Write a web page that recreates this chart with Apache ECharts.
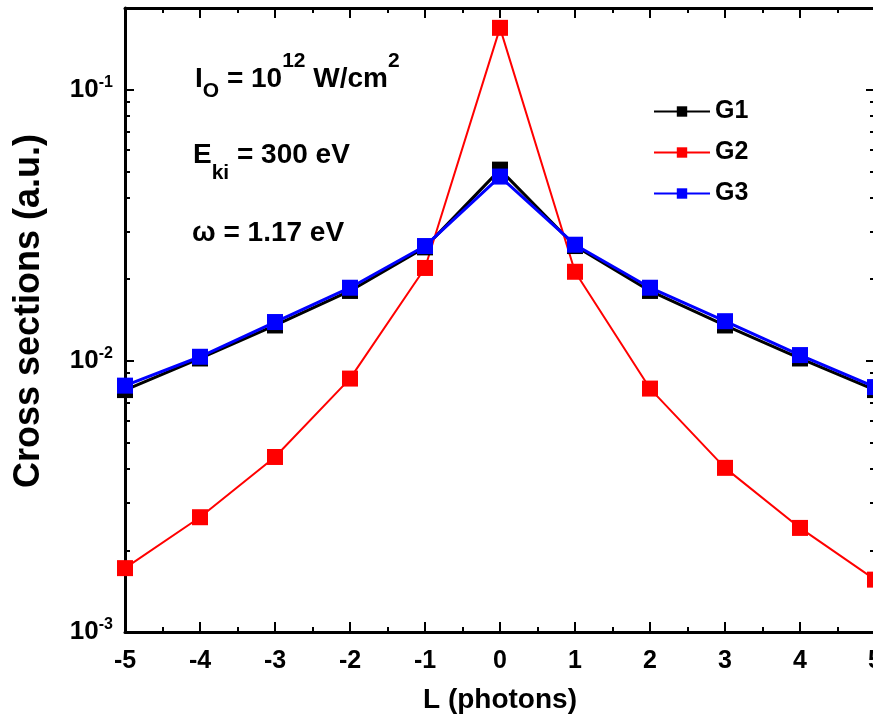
<!DOCTYPE html>
<html>
<head>
<meta charset="utf-8">
<title>Cross sections</title>
<script src="https://cdn.jsdelivr.net/npm/echarts@6/dist/echarts.min.js"></script>
<style>
  html, body { margin: 0; padding: 0; background: #fff; }
  #Echarts { width: 873px; height: 722px; }
</style>
</head>
<body>
<div id="Echarts"></div>
<script>
// 数据
var photons = [-5, -4, -3, -2, -1, 0, 1, 2, 3, 4, 5];
var g1 = [0.0078, 0.0102, 0.0135, 0.0181, 0.0262, 0.0507, 0.0265, 0.0181, 0.0135, 0.0102, 0.0078];
var g2 = [0.00172, 0.00265, 0.00442, 0.0086, 0.0220, 0.169, 0.0213, 0.0079, 0.00403, 0.00242, 0.00156];
var g3 = [0.0081, 0.01035, 0.0139, 0.0186, 0.0265, 0.0478, 0.0268, 0.0186, 0.0140, 0.0105, 0.0080];
var yMajor = [0.001, 0.01, 0.1];
var yMinor = [0.002, 0.003, 0.004, 0.005, 0.006, 0.007, 0.008, 0.009,
              0.02, 0.03, 0.04, 0.05, 0.06, 0.07, 0.08, 0.09, 0.2];

var FONT = 'Liberation Sans';

function pairs(ys) {
    return photons.map(function (x, i) { return [x, ys[i]]; });
}

function powLabel(v) {
    var e = Math.round(Math.log10(v));
    if (Math.abs(Math.log10(v) - e) > 1e-6) return '';
    return '{b|10}{s|' + e + '}';
}

// 文字宽度
var ctx = document.createElement('canvas').getContext('2d');
function textW(str, size) {
    ctx.font = 'bold ' + size + 'px "' + FONT + '"';
    return ctx.measureText(str).width;
}

// 注释文字: pieces of [text, fontSize, dy]
function annotation(x, y, pieces) {
    var out = [];
    var cx = x;
    pieces.forEach(function (p) {
        out.push({
            type: 'text', x: cx, y: y + p[2], z: 100,
            style: {
                text: p[0], fill: '#000',
                font: 'bold ' + p[1] + 'px "' + FONT + '"',
                textAlign: 'left', textVerticalAlign: 'middle'
            }
        });
        cx += textW(p[0], p[1]);
    });
    return out;
}

var myChart = echarts.init(document.getElementById('Echarts'));

var xBase = {
    type: 'value', min: -5, max: 5, interval: 1,
    axisLine: { show: true, onZero: false, lineStyle: { color: '#000', width: 3 } },
    axisTick: { show: true, inside: true, length: 10, lineStyle: { color: '#000', width: 2 } },
    minorTick: { show: true, splitNumber: 2, length: 5, lineStyle: { color: '#000', width: 2 } },
    splitLine: { show: false }
};

var yBase = {
    type: 'log', min: 0.001, max: 0.2, logBase: 10,
    axisLine: { show: true, onZero: false, lineStyle: { color: '#000', width: 3 } },
    axisTick: { show: true, inside: true, length: 9, customValues: yMajor, lineStyle: { color: '#000', width: 2 } },
    axisLabel: { show: false },
    splitLine: { show: false }
};

var yMinorAxis = {
    type: 'log', min: 0.001, max: 0.2, logBase: 10,
    axisLine: { show: false, onZero: false },
    axisTick: { show: true, inside: true, length: 5, customValues: yMinor, lineStyle: { color: '#000', width: 2 } },
    axisLabel: { show: false },
    splitLine: { show: false }
};

var texts = [].concat(
    annotation(195, 79.5, [['I', 28, 0], ['O', 21, 11.5], [' = 10', 28, 0], ['12', 21, -18.5], [' W/cm', 28, 0], ['2', 21, -18.5]]),
    annotation(193, 155, [['E', 28, 0], ['ki', 21, 18], [' = 300 eV', 28, 0]]),
    annotation(192, 233, [['ω = 1.17 eV', 28, 0]])
);

var option = {
    backgroundColor: '#fff',
    animation: false,
    grid: { left: 125, top: 8, width: 750, height: 624, outerBoundsMode: 'none', containLabel: false },
    legend: {
        left: 648, top: 94, orient: 'vertical',
        itemWidth: 56, itemHeight: 13, itemGap: 16,
        textStyle: { fontFamily: FONT, fontWeight: 'bold', fontSize: 25, color: '#000' },
        data: ['G1', 'G2', 'G3']
    },
    xAxis: [
        echarts.util.merge({
            position: 'bottom',
            name: 'L (photons)', nameLocation: 'middle', nameGap: 54,
            nameTextStyle: { fontFamily: FONT, fontWeight: 'bold', fontSize: 28, color: '#000' },
            axisLabel: { show: true, margin: 17, fontFamily: FONT, fontWeight: 'bold', fontSize: 25, color: '#000' }
        }, xBase, true),
        echarts.util.merge({ position: 'top', axisLabel: { show: false } }, xBase, true)
    ],
    yAxis: [
        echarts.util.merge({
            position: 'left',
            name: 'Cross sections (a.u.)', nameLocation: 'middle', nameGap: 78,
            nameTextStyle: { fontFamily: FONT, fontWeight: 'bold', fontSize: 36, color: '#000', padding: [0, 0, 0, 18] }
        }, yBase, true),
        echarts.util.merge({ position: 'right' }, yBase, true),
        echarts.util.merge({ position: 'left' }, yMinorAxis, true),
        echarts.util.merge({ position: 'right' }, yMinorAxis, true),
        {
            type: 'log', min: 0.001, max: 0.2, logBase: 10, position: 'left',
            axisLine: { show: false, onZero: false }, axisTick: { show: false }, splitLine: { show: false },
            axisLabel: {
                show: true, margin: 12, customValues: yMajor,
                formatter: powLabel,
                rich: {
                    b: { fontFamily: FONT, fontWeight: 'bold', fontSize: 26, color: '#000', lineHeight: 30 },
                    s: { fontFamily: FONT, fontWeight: 'bold', fontSize: 16, color: '#000', lineHeight: 14, verticalAlign: 'top' }
                }
            }
        }
    ],
    graphic: texts,
    series: [
        {
            name: 'G1', type: 'line', data: pairs(g1),
            symbol: 'rect', symbolSize: 16,
            itemStyle: { color: '#000' }, lineStyle: { color: '#000', width: 3 }
        },
        {
            name: 'G2', type: 'line', data: pairs(g2),
            symbol: 'rect', symbolSize: 16,
            itemStyle: { color: '#ff0000' }, lineStyle: { color: '#ff0000', width: 2 }
        },
        {
            name: 'G3', type: 'line', data: pairs(g3),
            symbol: 'rect', symbolSize: 16,
            itemStyle: { color: '#0000ff' }, lineStyle: { color: '#0000ff', width: 3 }
        }
    ]
};

myChart.setOption(option);
</script>
</body>
</html>
